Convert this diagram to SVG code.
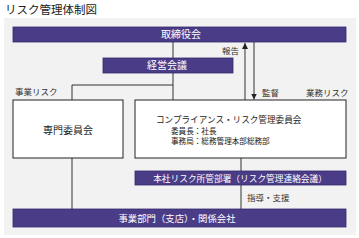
<svg xmlns="http://www.w3.org/2000/svg" width="359" height="238" viewBox="0 0 359 238">
<defs>
<style>
text{font-family:"Noto Sans CJK JP","Liberation Sans",sans-serif;}
.bar{fill:#4b3c88;stroke:#36296b;stroke-width:0.8;}
.bt{fill:#fff;font-size:10px;text-anchor:middle;}
.box{fill:#fff;stroke:#222;stroke-width:1;}
.lbl{fill:#333;font-size:8.5px;}
.ln{stroke:#333;stroke-width:1;fill:none;}
</style>
<marker id="ah" viewBox="0 0 6 6" refX="6" refY="3" markerWidth="6" markerHeight="6" orient="auto" markerUnits="userSpaceOnUse">
<path d="M0,0 L6,3 L0,6 Z" fill="#222"/>
</marker>
</defs>
<rect width="359" height="238" fill="#fff"/>
<rect x="4" y="18" width="352" height="217" fill="#f2f2f2"/>
<text x="5" y="14" font-size="11.5" fill="#222">リスク管理体制図</text>

<g id="connectors">
<path class="ln" d="M173,42 V58 M173,73 V100 M173,85 H72 V100"/>
<path class="ln" d="M72,158 V209 M241,158 V171 M241,185 V209"/>
<path class="ln" d="M245,100 V43" marker-end="url(#ah)"/>
<path class="ln" d="M254,42 V99.5" marker-end="url(#ah)"/>
<text class="lbl" x="222" y="54">報告</text>
<text class="lbl" x="262" y="96">監督</text>
<text class="lbl" x="306" y="96">業務リスク</text>
<text class="lbl" x="15" y="95">事業リスク</text>
<text class="lbl" x="247" y="201">指導・支援</text>
</g>

<g id="board">
<rect class="bar" x="13" y="27" width="333" height="15"/>
<text class="bt" x="181" y="38">取締役会</text>
</g>
<g id="mgmt">
<rect class="bar" x="103" y="58" width="130" height="15"/>
<text class="bt" x="167" y="69">経営会議</text>
</g>
<g id="expert">
<rect class="box" x="13" y="100" width="110" height="58"/>
<text x="68" y="133.5" font-size="10" fill="#222" text-anchor="middle">専門委員会</text>
</g>
<g id="compliance">
<rect class="box" x="135" y="100" width="211" height="58"/>
<text x="156" y="123" font-size="8.6" fill="#222">コンプライアンス・リスク管理委員会</text>
<text x="171" y="133.5" font-size="7.6" fill="#222">委員長：社長</text>
<text x="171" y="144" font-size="7.6" fill="#222">事務局：総務管理本部総務部</text>
</g>
<g id="hq">
<rect class="bar" x="135" y="171" width="211" height="14"/>
<text class="bt" x="240" y="181.5" style="font-size:8.7px">本社リスク所管部署（リスク管理連絡会議）</text>
</g>
<g id="business">
<rect class="bar" x="13" y="209" width="333" height="18"/>
<text class="bt" x="177" y="221.5" style="font-size:9.4px">事業部門（支店）・関係会社</text>
</g>
</svg>
